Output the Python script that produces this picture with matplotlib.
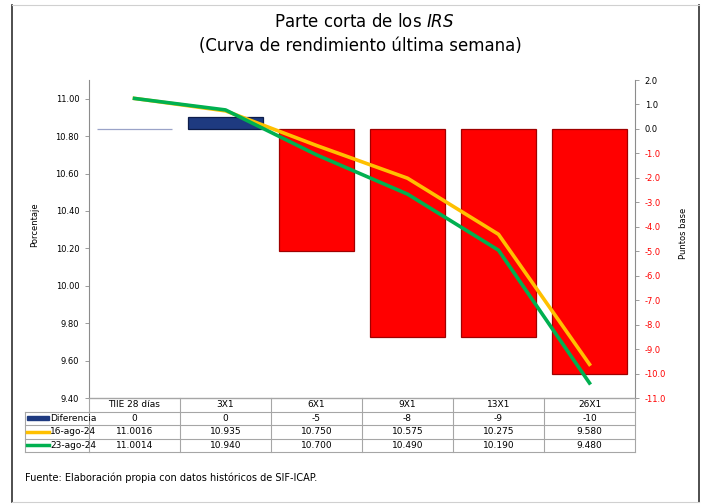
import matplotlib
matplotlib.use("Agg")
import matplotlib.pyplot as plt
import numpy as np
from matplotlib.lines import Line2D
from matplotlib.patches import Rectangle
from matplotlib.transforms import blended_transform_factory

plazos = ["TIIE 28 días", "3X1", "6X1", "9X1", "13X1", "26X1"]
tasa_16ago = [11.0016, 10.935, 10.750, 10.575, 10.275, 9.580]
tasa_23ago = [11.0014, 10.940, 10.700, 10.490, 10.190, 9.480]
tasa_16_txt = ["11.0016", "10.935", "10.750", "10.575", "10.275", "9.580"]
tasa_23_txt = ["11.0014", "10.940", "10.700", "10.490", "10.190", "9.480"]

# diferencia en puntos base entre ambas curvas
dif_pb = (np.array(tasa_23ago) - np.array(tasa_16ago)) * 100
dif_txt = [f"{round(v):d}" for v in dif_pb]

W, H = 706, 504
def fx(px):
    return px / W
def fy(py):
    return 1 - py / H

narrow = ["Liberation Sans Narrow", "DejaVu Sans"]

fig = plt.figure(figsize=(7.06, 5.04), dpi=100)
ax = fig.add_axes([fx(89), fy(398), fx(635) - fx(89), fy(80) - fy(398)])
ax2 = ax.twinx()
ax.set_zorder(ax2.get_zorder() + 1)
ax.patch.set_visible(False)

x = np.arange(len(plazos))
colores = ["#1E3A80" if round(v) >= 0 else "#FF0000" for v in dif_pb]
bordes = ["#9AA3C8" if abs(v) < 0.1 else ("#0E1D4A" if v > 0 else "#A00000") for v in dif_pb]
ax2.bar(x, dif_pb, width=0.835, color=colores, edgecolor=bordes, linewidth=0.9)

ax.plot(x, tasa_16ago, color="#FFC000", lw=2.6)
ax.plot(x, tasa_23ago, color="#00B050", lw=2.6)

ax.set_xlim(-0.5, 5.5)
ax.set_ylim(9.40, 11.10)
yt = np.arange(9.40, 11.001, 0.20)
ax.set_yticks(yt)
ax.set_yticklabels([f"{v:.2f}" for v in yt])
ax.set_xticks([])

ax2.set_ylim(-11, 2)
yt2 = np.arange(-11, 3, 1)
ax2.set_yticks(yt2)
ax2.set_yticklabels([f"{v:.1f}" for v in yt2])
for lab, v in zip(ax2.get_yticklabels(), yt2):
    lab.set_color("#FF0000" if v < 0 else "black")

for a in (ax, ax2):
    a.spines["top"].set_visible(False)
    for s in ("left", "right", "bottom"):
        a.spines[s].set_color("#8C8C8C")
        a.spines[s].set_linewidth(0.8)
ax.spines["right"].set_visible(False)
ax2.spines["left"].set_visible(False)
ax.tick_params(axis="y", direction="out", length=3, width=0.6, color="#8C8C8C",
               labelsize=6, pad=4)
ax2.tick_params(axis="y", direction="out", length=3, width=0.6, color="#8C8C8C",
                labelsize=6, pad=4)

fig.text(fx(35), fy(225), "Porcentaje", rotation=90, ha="center", va="center", fontsize=6)
fig.text(fx(683), fy(233), "Puntos base", rotation=90, ha="center", va="center", fontsize=6)

fig.text(fx(364), fy(22), r"Parte corta de los $\mathit{IRS}$", ha="center", va="center",
         fontsize=12)
fig.text(fx(360), fy(46), "(Curva de rendimiento última semana)", ha="center",
         va="center", fontsize=12)

# tabla de datos bajo la gráfica
trans = blended_transform_factory(ax.transData, fig.transFigure)
filas = [398, 411.5, 425, 438.5, 452]
gris = "#A6A6A6"
for i, py in enumerate(filas):
    fig.add_artist(Line2D([-0.5, 5.5], [fy(py), fy(py)], transform=trans, color=gris, lw=0.8))
    if i > 0:
        fig.add_artist(Line2D([fx(25), fx(89)], [fy(py), fy(py)], color=gris, lw=0.8))
for k in range(len(plazos) + 1):
    fig.add_artist(Line2D([k - 0.5, k - 0.5], [fy(398), fy(452)], transform=trans,
                          color=gris, lw=0.8))
fig.add_artist(Line2D([fx(25), fx(25)], [fy(411.5), fy(452)], color=gris, lw=0.8))

centros = [(a + b) / 2 for a, b in zip(filas[:-1], filas[1:])]
renglones = [plazos, dif_txt, tasa_16_txt, tasa_23_txt]
for yc, textos in zip(centros, renglones):
    for xi, t in zip(x, textos):
        fig.text(xi, fy(yc), t, transform=trans, ha="center", va="center", fontsize=6.5,
                 family=narrow)

fig.add_artist(Rectangle((fx(27), fy(420)), fx(22), fy(416) - fy(420), color="#1E3A80"))
fig.add_artist(Line2D([fx(27), fx(49)], [fy(centros[2])] * 2, color="#FFC000", lw=2.5))
fig.add_artist(Line2D([fx(27), fx(49)], [fy(centros[3])] * 2, color="#00B050", lw=2.5))
for yc, t in zip(centros[1:], ["Diferencia", "16-ago-24", "23-ago-24"]):
    fig.text(fx(50), fy(yc), t, ha="left", va="center", fontsize=6.5, family=narrow)

fig.text(fx(25), fy(478), "Fuente: Elaboración propia con datos históricos de SIF-ICAP.",
         ha="left", va="center", fontsize=7, family=narrow)

# marco exterior
fig.add_artist(Line2D([fx(12), fx(12)], [fy(5), fy(502)], color="#303030", lw=1.2))
fig.add_artist(Line2D([fx(699), fx(699)], [fy(5), fy(502)], color="#303030", lw=1.2))
fig.add_artist(Line2D([fx(12), fx(699)], [fy(5), fy(5)], color="#D0D0D0", lw=0.8))
fig.add_artist(Line2D([fx(12), fx(699)], [fy(502), fy(502)], color="#D0D0D0", lw=0.8))

fig.savefig("out.png", dpi=100)
